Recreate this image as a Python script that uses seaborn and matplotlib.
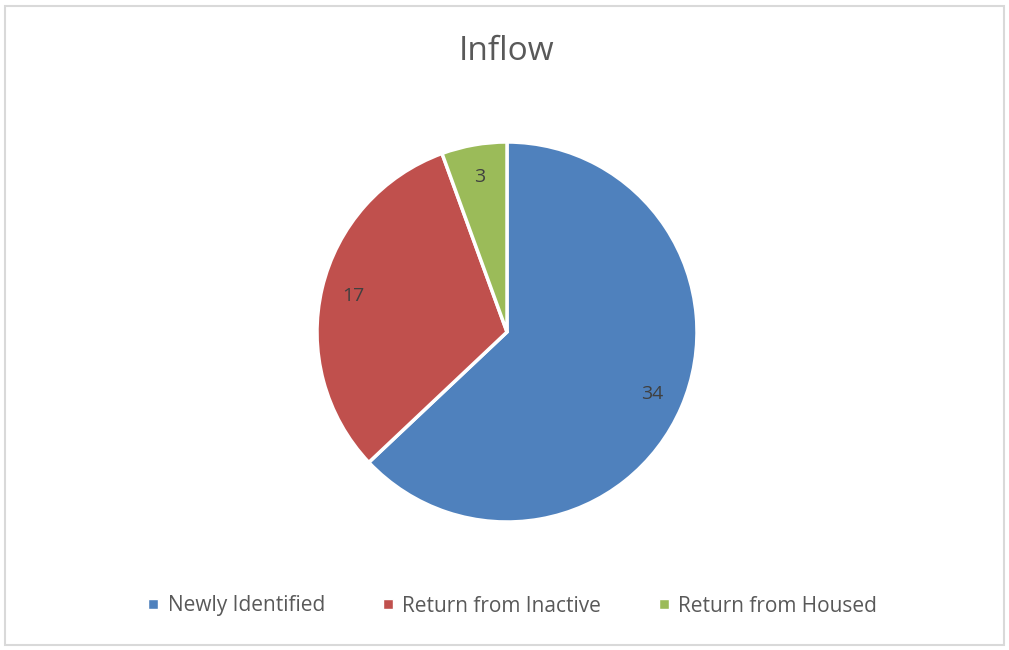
import matplotlib
matplotlib.use('Agg')
import matplotlib.pyplot as plt
import seaborn as sns
from matplotlib.lines import Line2D
from matplotlib.patches import Rectangle

sns.set_theme(style='white')
plt.rcParams['font.family'] = ['Open Sans', 'DejaVu Sans']

categories = ['Newly Identified', 'Return from Inactive', 'Return from Housed']
values = [34, 17, 3]
colors = ['#4F81BD', '#C0504D', '#9BBB59']

fig = plt.figure(figsize=(10.09, 6.5), dpi=100)
fig.patch.set_facecolor('white')

# chart border like the Excel frame
fig.patches.append(Rectangle((5 / 1009, 5 / 650), 999 / 1009, 639 / 650,
                             transform=fig.transFigure, fill=False,
                             edgecolor='#D9D9D9', linewidth=1.5))

ax = fig.add_axes([317 / 1009, 128 / 650, 380 / 1009, 380 / 650])
wedges, texts = ax.pie(values, colors=colors, startangle=90, counterclock=False,
                       wedgeprops=dict(edgecolor='white', linewidth=2.5),
                       labels=[str(v) for v in values], labeldistance=0.83,
                       textprops=dict(color='#404040', fontsize=14))
for t in texts:
    t.set_ha('center')
    t.set_va('center')
ax.set_xlim(-1, 1)
ax.set_ylim(-1, 1)
ax.set_aspect('equal')

fig.text(507 / 1009, 1 - 52 / 650, 'Inflow', ha='center', va='center',
         fontsize=24, color='#595959')

handles = [Line2D([0], [0], marker='s', color='w', markerfacecolor=c,
                  markersize=7, linestyle='') for c in colors]
fig.legend(handles, categories, loc='center', bbox_to_anchor=(511 / 1009, 1 - 606 / 650),
           ncol=3, frameon=False, fontsize=15, labelcolor='#595959',
           handletextpad=0.3, columnspacing=2.6, handlelength=0.8)

fig.savefig('out.png', dpi=100)
